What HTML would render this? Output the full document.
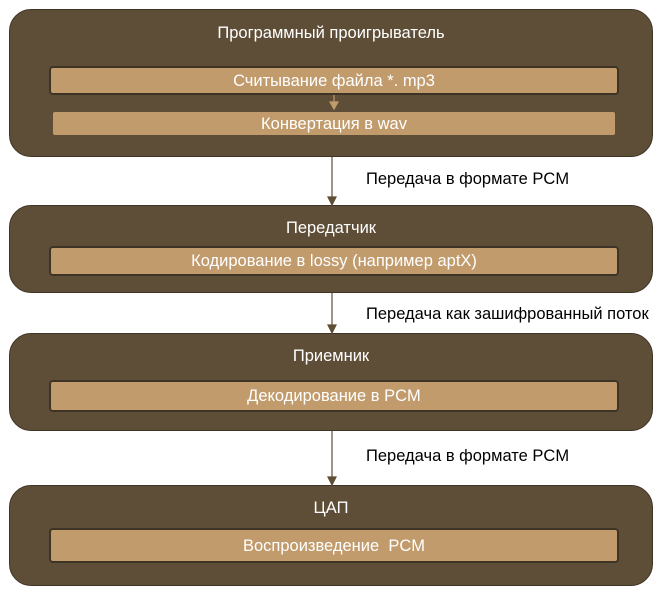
<!DOCTYPE html><html><head><style>
body{margin:0;width:667px;height:592px;background:#fff;position:relative;font-family:"Liberation Sans",sans-serif;overflow:hidden}
.o{position:absolute;left:9px;width:644px;background:#5f4e37;border:1.5px solid #3e3426;border-radius:22px;box-sizing:border-box}
.i{position:absolute;background:#c19b6c;border:2px solid #3e3426;border-radius:4px;box-sizing:border-box;color:#fff;font-size:16.5px;text-align:center;white-space:nowrap}
.t{position:absolute;left:9px;width:644px;text-align:center;color:#fff;font-size:16.5px;white-space:nowrap}
.l{position:absolute;left:366px;font-size:16.5px;color:#000;white-space:nowrap}
</style></head><body>
<div class="o" style="top:9px;height:148px"></div>
<div class="t" style="top:24px">Программный проигрыватель</div>
<div class="i" style="left:49px;top:66px;width:570px;height:29px;line-height:26px">Считывание файла *. mp3</div>
<div class="i" style="left:51px;top:110px;width:566px;height:27px;line-height:25px;border-color:#5f4e37">Конвертация в wav</div>
<div class="o" style="top:205px;height:88px"></div>
<div class="t" style="top:219px">Передатчик</div>
<div class="i" style="left:49px;top:246px;width:570px;height:30px;line-height:27px">Кодирование в lossy (например aptX)</div>
<div class="o" style="top:333px;height:98px"></div>
<div class="t" style="top:347px">Приемник</div>
<div class="i" style="left:49px;top:380px;width:570px;height:32px;line-height:29px">Декодирование в PCM</div>
<div class="o" style="top:485px;height:101px"></div>
<div class="t" style="top:499px">ЦАП</div>
<div class="i" style="left:49px;top:528px;width:570px;height:35px;line-height:32px">Воспроизведение&nbsp; PCM</div>
<div class="l" style="top:170px">Передача в формате PCM</div>
<div class="l" style="top:305px">Передача как зашифрованный поток</div>
<div class="l" style="top:447px">Передача в формате PCM</div>
<svg width="667" height="592" style="position:absolute;left:0;top:0">
<g stroke="#5f4e37" stroke-width="1.2" fill="#5f4e37">
<line x1="332" y1="157" x2="332" y2="198"/><polygon points="328,197 336,197 332,205"/>
<line x1="332" y1="293" x2="332" y2="326"/><polygon points="328,325 336,325 332,333"/>
<line x1="332" y1="431" x2="332" y2="478"/><polygon points="328,477 336,477 332,485"/>
</g>
<g stroke="#c19b6c" stroke-width="1.2" fill="#c19b6c">
<line x1="334" y1="95" x2="334" y2="103"/><polygon points="330,102 338,102 334,109"/>
</g>
</svg>
</body></html>
